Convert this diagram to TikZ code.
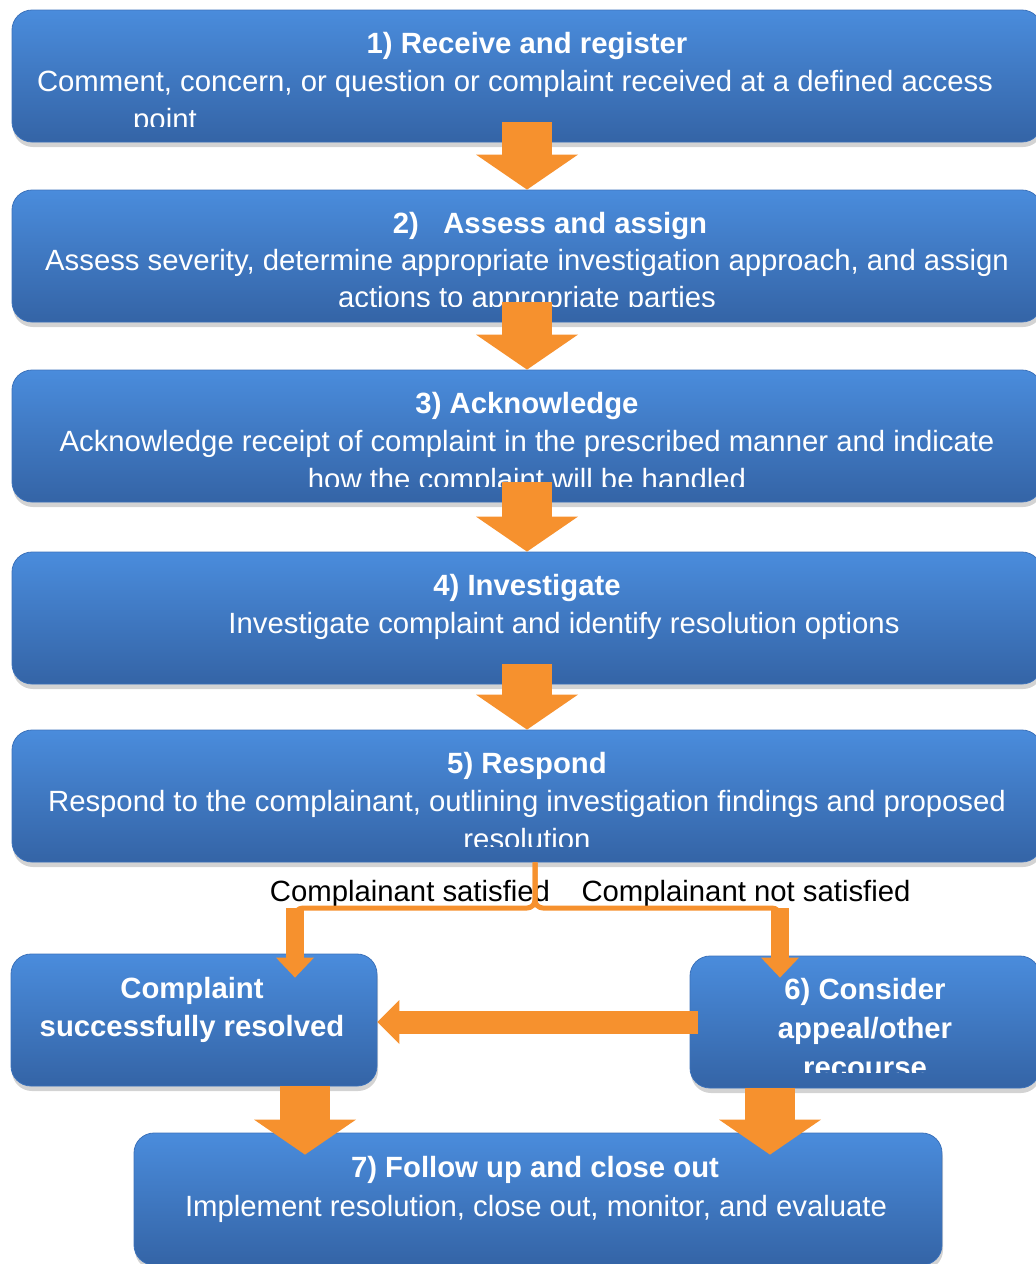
\documentclass[tikz,border=0pt]{standalone}
\usepackage{fontspec}
\setmainfont{Liberation Sans}
\usetikzlibrary{arrows.meta,shadows,calc}
\definecolor{boxtop}{RGB}{74,140,220}
\definecolor{boxbot}{RGB}{52,100,166}
\definecolor{boxedge}{RGB}{60,114,186}
\definecolor{arroworange}{RGB}{246,145,46}
\begin{document}
\begin{tikzpicture}[x=1pt, y=-1pt, line join=round,
	stepbox/.style={rounded corners=20pt, minimum height=132pt, top color=boxtop, bottom color=boxbot,
		draw=boxedge, line width=0.8pt, drop shadow={shadow xshift=1pt, shadow yshift=-5pt, opacity=0.35}},
	steptitle/.style={anchor=base, inner sep=0pt, text=white, font=\fontsize{29.3}{35}\selectfont\bfseries},
	stepline/.style={anchor=base, inner sep=0pt, text=white, font=\fontsize{29.3}{35}\selectfont},
	branchlabel/.style={anchor=base, inner sep=0pt, font=\fontsize{29.3}{35}\selectfont},
	bigarrow/.style={draw=arroworange, line width=50pt, -{Triangle[width=102pt,length=35pt,line width=0pt]}},
	smallarrow/.style={draw=arroworange, line width=18pt, -{Triangle[width=38pt,length=20pt,line width=0pt]}},
	sidearrow/.style={draw=arroworange, line width=23pt, -{Triangle[width=44pt,length=22pt,line width=0pt]}},
	branchline/.style={draw=arroworange, line width=5pt, rounded corners=8pt}]
	\useasboundingbox (0,0) rectangle (1036,1264);

	% the seven steps
	\node[stepbox, minimum width=1030pt] (receive) at (527,76) {};
	\node[stepbox, minimum width=1030pt] (assess) at (527,256) {};
	\node[stepbox, minimum width=1030pt] (ack) at (527,436) {};
	\node[stepbox, minimum width=1030pt] (invest) at (527,618) {};
	\node[stepbox, minimum width=1030pt] (respond) at (527,796) {};
	\node[stepbox, minimum width=366pt] (resolved) at (194,1020) {};
	\node[stepbox, minimum width=350pt] (appeal) at (865,1022) {};
	\node[stepbox, minimum width=808pt] (close) at (538,1199) {};

	% texts, cut at the bottom as in the original
	\begin{scope}
		\clip (receive.north west) rectangle ($(receive.south east)+(0,-16)$);
		\node[steptitle] (receive-t) at (527,53) {1) Receive and register};
		\node[stepline] (receive-a) at (515,91) {Comment, concern, or question or complaint received at a defined access};
		\node[stepline, anchor=base west] (receive-b) at (133,129) {point};
	\end{scope}
	\begin{scope}
		\clip (assess.north west) rectangle ($(assess.south east)+(0,-16)$);
		\node[steptitle] (assess-t) at (550,233) {2)~~~Assess and assign};
		\node[stepline] (assess-a) at (527,270) {Assess severity, determine appropriate investigation approach, and assign};
		\node[stepline] (assess-b) at (527,307) {actions to appropriate parties};
	\end{scope}
	\begin{scope}
		\clip (ack.north west) rectangle ($(ack.south east)+(0,-16)$);
		\node[steptitle] (ack-t) at (527,413) {3) Acknowledge};
		\node[stepline] (ack-a) at (527,451) {Acknowledge receipt of complaint in the prescribed manner and indicate};
		\node[stepline] (ack-b) at (527,489) {how the complaint will be handled};
	\end{scope}
	\node[steptitle] (invest-t) at (527,595) {4) Investigate};
	\node[stepline] (invest-a) at (564,633) {Investigate complaint and identify resolution options};
	\begin{scope}
		\clip (respond.north west) rectangle ($(respond.south east)+(0,-16)$);
		\node[steptitle] (respond-t) at (527,773) {5) Respond};
		\node[stepline] (respond-a) at (527,811) {Respond to the complainant, outlining investigation findings and proposed};
		\node[stepline] (respond-b) at (527,849) {resolution};
	\end{scope}
	\node[steptitle] (resolved-a) at (192,998) {Complaint};
	\node[steptitle] (resolved-b) at (192,1036) {successfully resolved};
	\begin{scope}
		\clip (appeal.north west) rectangle ($(appeal.south east)+(0,-16)$);
		\node[steptitle] (appeal-a) at (865,999) {6) Consider};
		\node[steptitle] (appeal-b) at (865,1038) {appeal/other};
		\node[steptitle] (appeal-c) at (865,1077) {recourse};
	\end{scope}
	\node[steptitle] (close-t) at (535,1177) {7) Follow up and close out};
	\node[stepline] (close-a) at (536,1216) {Implement resolution, close out, monitor, and evaluate};

	\node[branchlabel] (yes-l) at (410,901) {Complainant satisfied};
	\node[branchlabel] (no-l) at (746,901) {Complainant not satisfied};

	% arrows
	\foreach \a/\b in {receive/assess, assess/ack, ack/invest, invest/respond}
		\draw[bigarrow] ([yshift=20pt]\a.south) -- (\b.north);

	\coordinate (split) at (535,908);
	\coordinate (yes) at (295,908);
	\coordinate (no) at (780,908);
	\draw[branchline] (respond.south -| split) |- (yes) -- ++(0,12);
	\draw[branchline] (respond.south -| split) |- (no) -- ++(0,12);
	\draw[smallarrow] (yes) -- ($(resolved.north -| yes)+(0,24)$);
	\draw[smallarrow] (no) -- ($(appeal.north -| no)+(0,22)$);

	\draw[sidearrow] ([xshift=8pt]appeal.west) -- (resolved.east |- appeal.west);

	\coordinate (ldrop) at (305,0);
	\coordinate (rdrop) at (770,0);
	\draw[bigarrow] (resolved.south -| ldrop) -- ($(close.north -| ldrop)+(0,22)$);
	\draw[bigarrow] (appeal.south -| rdrop) -- ($(close.north -| rdrop)+(0,22)$);
\end{tikzpicture}
\end{document}
